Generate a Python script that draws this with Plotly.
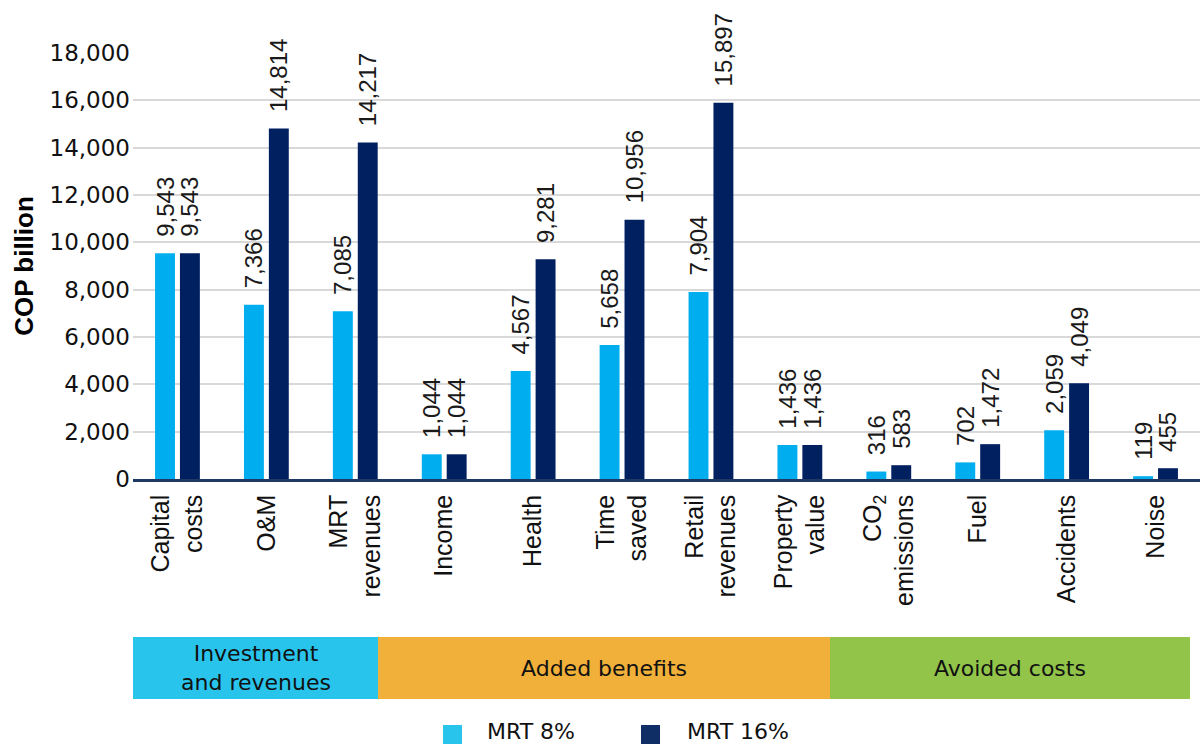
import plotly.graph_objects as go

categories = ["Capital<br>costs", "O&M", "MRT<br>revenues", "Income", "Health", "Time<br>saved",
              "Retail<br>revenues", "Property<br>value", "CO<sub>2</sub><br>emissions", "Fuel",
              "Accidents", "Noise"]
mrt8 = [9543, 7366, 7085, 1044, 4567, 5658, 7904, 1436, 316, 702, 2059, 119]
mrt16 = [9543, 14814, 14217, 1044, 9281, 10956, 15897, 1436, 583, 1472, 4049, 455]
series_names = ["MRT 8%", "MRT 16%"]
y_ticks = [0, 2000, 4000, 6000, 8000, 10000, 12000, 14000, 16000, 18000]
groups = ["Investment<br>and revenues", "Added benefits", "Avoided costs"]

C8 = "#00AEEF"
C16 = "#002060"
LABEL_FONT = "Liberation Sans, Arial, sans-serif"
NUM_FONT = "DejaVu Sans, sans-serif"

def fmt(v):
    return "\u200b\u00a0\u00a0" + f"{v:,}"

fig = go.Figure()
for name, vals, col in [(series_names[0], mrt8, C8), (series_names[1], mrt16, C16)]:
    fig.add_trace(go.Bar(
        x=categories, y=vals, name=name, marker=dict(color=col, line=dict(width=0)),
        text=[fmt(v) for v in vals], textposition="outside", textangle=-90,
        textfont=dict(family=LABEL_FONT, size=24, color="#1a1a1a"),
        constraintext="none", cliponaxis=False, showlegend=False,
    ))

L, R, T, B = 133, 2, 53, 265
W = 1202 - L - R
H = 744 - T - B
def px(x):
    return (x - L) / W
def py(y):
    return (744 - B - y) / H

band_edges = [133, 378, 830, 1190]
band_colors = ["#29C4EC", "#F0B03A", "#92C44A"]
for i in range(3):
    fig.add_shape(type="rect", xref="paper", yref="paper",
                  x0=px(band_edges[i]), x1=px(band_edges[i + 1]),
                  y0=py(699), y1=py(637),
                  fillcolor=band_colors[i], line=dict(width=0), layer="above")
    fig.add_annotation(xref="paper", yref="paper",
                       x=(px(band_edges[i]) + px(band_edges[i + 1])) / 2,
                       y=py(668), text=groups[i], showarrow=False,
                       font=dict(family=NUM_FONT, size=22, color="#111111"),
                       xanchor="center", yanchor="middle")

# legend swatches and labels
legend_items = [(443, 485, "#29C4EC", series_names[0]),
                (641, 685, "#0F2E66", series_names[1])]
for sx, tx, col, name in legend_items:
    fig.add_shape(type="rect", xref="paper", yref="paper",
                  x0=px(sx), x1=px(sx + 19), y0=py(748), y1=py(725),
                  fillcolor=col, line=dict(width=0))
    fig.add_annotation(xref="paper", yref="paper", x=px(tx), y=py(731),
                       text=name, showarrow=False, xanchor="left", yanchor="middle",
                       font=dict(family=NUM_FONT, size=22, color="#111111"))

fig.update_layout(
    width=1202, height=744,
    margin=dict(l=L, r=R, t=T, b=B, autoexpand=False),
    paper_bgcolor="white", plot_bgcolor="white",
    barmode="group", bargap=0.44, bargroupgap=0.2,
    showlegend=False,
    xaxis=dict(tickangle=-90, tickfont=dict(family=LABEL_FONT, size=25, color="#111111"),
               showline=True, linecolor="#1F3864", linewidth=2.5, ticks="",
               ticklabelstandoff=3, automargin=False),
    yaxis=dict(range=[0, 18000], tickvals=y_ticks, tickformat=",",
               tickfont=dict(family=NUM_FONT, size=23, color="#111111"),
               gridcolor="#D9D9D9", gridwidth=1.5, zeroline=False, showline=False,
               automargin=False, ticklabelstandoff=2,
               title=dict(text="<b>COP billion</b>", font=dict(family=LABEL_FONT, size=26, color="#000000"),
                          standoff=8)),
)

fig.write_html("out.html")
